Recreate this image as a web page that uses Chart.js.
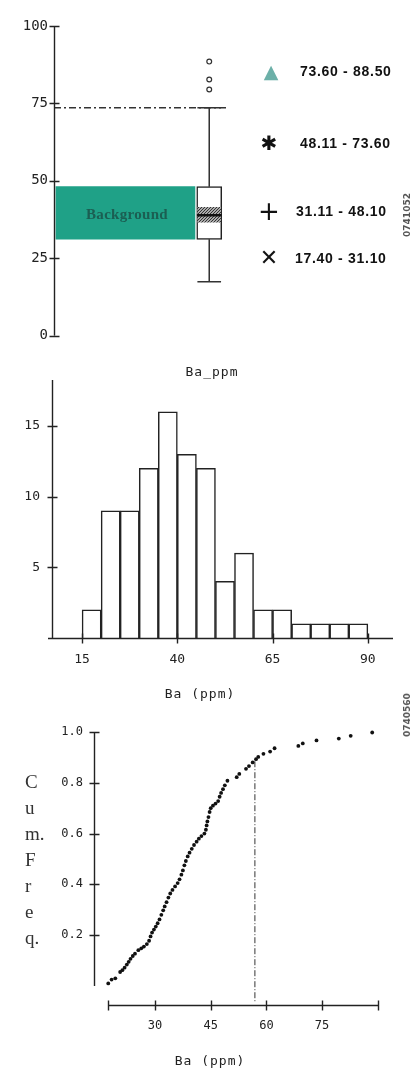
<!DOCTYPE html>
<html>
<head>
<meta charset="utf-8">
<script src="https://cdn.jsdelivr.net/npm/chart.js@4.4.1/dist/chart.umd.min.js"></script>
<style>
html, body { margin: 0; padding: 0; background: #fff; }
body { width: 414px; height: 1079px; position: relative; overflow: hidden; font-family: 'DejaVu Sans Mono', monospace; color: #222; }
.panel { position: absolute; left: 0; width: 414px; }
.lbl { position: absolute; white-space: nowrap; transform: translate(-50%, -50%); }
.axisTitle { font-size: 13px; letter-spacing: 1px; }
.sym { position: absolute; width: 30px; height: 30px; display: flex; align-items: center; justify-content: center; font-family: 'DejaVu Sans', sans-serif; line-height: 1; color: #111; }
.range { position: absolute; font-family: 'Liberation Sans', Arial, sans-serif; font-weight: bold; font-size: 14px; letter-spacing: 0.7px; color: #111; transform: translateY(-50%); white-space: nowrap; }
.cumLabel { position: absolute; left: 25px; top: 769px; font-family: 'Liberation Serif', serif; font-size: 19px; line-height: 26px; color: #333; }
.scan { position: absolute; font-family: 'DejaVu Sans', sans-serif; font-size: 9px; font-weight: bold; color: #555; transform: translate(-50%, -50%) rotate(-90deg); white-space: nowrap; }
</style>
</head>
<body>
<div class="panel" style="top:0;height:350px"><canvas id="boxChart"></canvas></div>
<div class="panel" style="top:360px;height:345px"><canvas id="histChart"></canvas></div>
<div class="panel" style="top:705px;height:374px"><canvas id="cumChart"></canvas></div>

<div class="lbl" style="left:127px;top:214px;font-family:'Liberation Serif',serif;font-weight:bold;font-size:15px;color:#1b5e52;letter-spacing:0.3px">Background</div>
<div id="legend"></div>

<div class="lbl axisTitle" style="left:212px;top:371px">Ba_ppm</div>
<div class="lbl axisTitle" style="left:200px;top:693px">Ba (ppm)</div>
<div class="lbl axisTitle" style="left:210px;top:1060px">Ba (ppm)</div>
<div class="cumLabel">C<br>u<br>m.<br>F<br>r<br>e<br>q.</div>

<div class="scan" style="left:407px;top:215px">0741052</div>
<div class="scan" style="left:407px;top:715px">0740560</div>

<script>
// ---- boxplot panel ----
const boxTicks = [0, 25, 50, 75, 100];
const backgroundRange = [31.11, 48.10];
const boxQuartiles = [31.1, 48.1];
const boxMedian = 38.9;
const boxNotch = [36.6, 41.4];
const whiskerLow = 17.4;
const whiskerHigh = 73.6;
const outliers = [79.5, 82.7, 88.5];
const thresholdBa = 73.6;
const legendSymbols = ['\u25B2', '\u2731', '+', '\u2715'];
const legendRanges = ['73.60 - 88.50', '48.11 - 73.60', '31.11 - 48.10', '17.40 - 31.10'];

// ---- histogram panel ----
const histBinCenters = [17.5, 22.5, 27.5, 32.5, 37.5, 42.5, 47.5, 52.5, 57.5, 62.5, 67.5, 72.5, 77.5, 82.5, 87.5];
const histCounts = [2, 9, 9, 12, 16, 13, 12, 4, 6, 2, 2, 1, 1, 1, 1];
const histXTicks = [15, 40, 65, 90];
const histYTicks = [5, 10, 15];

// ---- cumulative frequency panel ----
const cumBa = [17.4, 18.3, 19.3, 20.6, 21.2, 21.8, 22.4, 22.9, 23.4, 24.0, 24.6, 25.5, 26.3, 27.0, 27.8,
    28.4, 28.8, 29.2, 29.7, 30.2, 30.7, 31.2, 31.7, 32.2, 32.6, 33.1, 33.6, 34.1, 34.7, 35.4,
    36.1, 36.6, 37.1, 37.5, 37.9, 38.3, 38.8, 39.3, 39.9, 40.5, 41.2, 41.8, 42.5, 43.3, 43.7,
    43.9, 44.1, 44.4, 44.7, 45.0, 45.6, 46.3, 47.0, 47.4, 47.8, 48.3, 48.8, 49.5, 52.0, 52.7,
    54.5, 55.3, 56.3, 57.2, 57.8, 59.2, 61.0, 62.2, 68.6, 69.8, 73.5, 79.5, 82.7, 88.5];
const cumFreq = [0.010, 0.025, 0.030, 0.055, 0.062, 0.072, 0.084, 0.095, 0.107, 0.118, 0.127, 0.141, 0.148, 0.155, 0.165,
    0.178, 0.195, 0.210, 0.222, 0.234, 0.247, 0.262, 0.280, 0.298, 0.313, 0.330, 0.348, 0.364, 0.378, 0.392,
    0.405, 0.420, 0.438, 0.455, 0.475, 0.492, 0.510, 0.525, 0.540, 0.555, 0.568, 0.580, 0.590, 0.600, 0.615,
    0.632, 0.648, 0.665, 0.685, 0.700, 0.710, 0.718, 0.728, 0.745, 0.760, 0.775, 0.790, 0.808, 0.822, 0.835,
    0.855, 0.866, 0.880, 0.893, 0.902, 0.914, 0.923, 0.936, 0.945, 0.955, 0.967, 0.974, 0.985, 0.998];
const cumXTicks = [30, 45, 60, 75];
const cumYTicks = [0.2, 0.4, 0.6, 0.8, 1.0];
const cutoffBa = 56.9;
const cutoffFreq = 0.885;

// layout of the boxplot panel (x units = pixels right of the axis)
const BOX_X = 157.5, BOX_W = 25;
const BG_X = 72.5, BG_W = 139;
const LINE_END = 176;

Chart.defaults.font.family = "'DejaVu Sans Mono', monospace";
Chart.defaults.color = '#222';
Chart.defaults.animation = false;
Chart.defaults.events = [];
Chart.defaults.plugins.legend.display = false;
Chart.defaults.plugins.tooltip.enabled = false;

// axes drawn with ticks crossing the axis line
const crossAxes = {
    id: 'crossAxes',
    afterDraw(chart, args, opts) {
        const ctx = chart.ctx;
        const x = chart.scales.x, y = chart.scales.y;
        const ax = Math.round(chart.chartArea.left) + 0.5;
        ctx.save();
        ctx.strokeStyle = '#222';
        ctx.lineWidth = 1.4;
        ctx.beginPath();
        ctx.moveTo(ax, y.getPixelForValue(opts.yFrom));
        ctx.lineTo(ax, y.getPixelForValue(opts.yTo));
        opts.yTicks.forEach(v => {
            const p = Math.round(y.getPixelForValue(v)) + 0.5;
            ctx.moveTo(ax - 5, p);
            ctx.lineTo(ax + 5, p);
        });
        if (opts.xTicks) {
            const ay = Math.round(y.getPixelForValue(opts.xAt)) + 0.5;
            ctx.moveTo(x.getPixelForValue(opts.xFrom) - (opts.xLead || 0), ay);
            ctx.lineTo(x.getPixelForValue(opts.xTo), ay);
            opts.xTicks.forEach(v => {
                const p = Math.round(x.getPixelForValue(v)) + 0.5;
                ctx.moveTo(p, ay - 5);
                ctx.lineTo(p, ay + 5);
            });
        }
        ctx.stroke();
        ctx.restore();
    }
};

function fixedTicks(list) {
    return scale => { scale.ticks = list.map(v => ({ value: v })); };
}

function notchPattern(ctx) {
    const c = document.createElement('canvas');
    c.width = 3; c.height = 3;
    const g = c.getContext('2d');
    g.fillStyle = '#aaa';
    g.fillRect(0, 0, 3, 3);
    g.fillStyle = '#333';
    g.fillRect(0, 0, 1, 1);
    g.fillRect(2, 1, 1, 1);
    g.fillRect(1, 2, 1, 1);
    return ctx.createPattern(c, 'repeat');
}

function initBoxChart() {
    const canvas = document.getElementById('boxChart');
    const ctx = canvas.getContext('2d');
    new Chart(ctx, {
        type: 'bar',
        data: {
            datasets: [
                {
                    type: 'scatter',
                    data: outliers.map(v => ({ x: BOX_X, y: v })),
                    pointRadius: 2.4,
                    pointBackgroundColor: '#fff',
                    pointBorderColor: '#333',
                    pointBorderWidth: 1.2
                },
                {
                    type: 'line',
                    data: [{ x: 0, y: thresholdBa }, { x: LINE_END, y: thresholdBa }],
                    borderColor: '#333',
                    borderWidth: 1.3,
                    borderDash: [7, 3, 2, 3],
                    pointRadius: 0
                },
                {
                    type: 'line',
                    data: [{ x: BOX_X - BOX_W / 2, y: boxMedian }, { x: BOX_X + BOX_W / 2, y: boxMedian }],
                    borderColor: '#111',
                    borderWidth: 2.5,
                    pointRadius: 0
                },
                {
                    type: 'bar',
                    data: [{ x: BOX_X, y: boxNotch }],
                    backgroundColor: notchPattern(ctx),
                    barThickness: BOX_W - 2,
                    grouped: false
                },
                {
                    type: 'bar',
                    data: [{ x: BOX_X, y: boxQuartiles }],
                    backgroundColor: '#fff',
                    borderColor: '#222',
                    borderWidth: 1.5,
                    borderSkipped: false,
                    barThickness: BOX_W,
                    grouped: false
                },
                {
                    type: 'line',
                    data: [
                        { x: BOX_X, y: boxQuartiles[1] }, { x: BOX_X, y: whiskerHigh }, { x: BOX_X, y: null },
                        { x: BOX_X, y: boxQuartiles[0] }, { x: BOX_X, y: whiskerLow }, { x: BOX_X, y: null },
                        { x: BOX_X - 12, y: whiskerHigh }, { x: BOX_X + 12, y: whiskerHigh }, { x: BOX_X, y: null },
                        { x: BOX_X - 12, y: whiskerLow }, { x: BOX_X + 12, y: whiskerLow }
                    ],
                    borderColor: '#333',
                    borderWidth: 1.5,
                    pointRadius: 0,
                    spanGaps: false
                },
                {
                    type: 'bar',
                    data: [{ x: BG_X, y: backgroundRange }],
                    backgroundColor: '#1fa187',
                    barThickness: BG_W,
                    grouped: false
                }
            ]
        },
        options: {
            responsive: true,
            maintainAspectRatio: false,
            layout: { padding: { top: 26, bottom: 13, left: 0, right: 0 } },
            scales: {
                x: { type: 'linear', display: false, offset: false, min: 0, max: 360 },
                y: {
                    min: 0, max: 100,
                    afterBuildTicks: fixedTicks(boxTicks),
                    afterFit: s => { s.width = 54; },
                    grid: { display: false, drawTicks: false },
                    border: { display: false },
                    ticks: { padding: 6, font: { size: 14 } }
                }
            },
            plugins: { crossAxes: { yFrom: 0, yTo: 100, yTicks: boxTicks } }
        },
        plugins: [crossAxes]
    });

    // legend at the right of the boxplot
    const legend = document.getElementById('legend');
    const rows = [
        { cy: 71, sx: 271, tx: 300, size: 19, color: '#6cb0a8' },
        { cy: 143, sx: 269, tx: 300, size: 20, color: '#111' },
        { cy: 211, sx: 269, tx: 296, size: 26, color: '#111' },
        { cy: 258, sx: 269, tx: 295, size: 22, color: '#111' }
    ];
    rows.forEach((r, i) => {
        const s = document.createElement('div');
        s.className = 'sym';
        s.style.left = (r.sx - 15) + 'px';
        s.style.top = (r.cy - 15) + 'px';
        s.style.fontSize = r.size + 'px';
        s.style.color = r.color;
        s.textContent = legendSymbols[i];
        legend.appendChild(s);
        const t = document.createElement('div');
        t.className = 'range';
        t.style.left = r.tx + 'px';
        t.style.top = r.cy + 'px';
        t.textContent = legendRanges[i];
        legend.appendChild(t);
    });
}

function initHistChart() {
    new Chart(document.getElementById('histChart'), {
        type: 'bar',
        data: {
            datasets: [{
                data: histBinCenters.map((c, i) => ({ x: c, y: histCounts[i] })),
                backgroundColor: '#fff',
                borderColor: '#222',
                borderWidth: 1.5,
                borderSkipped: 'bottom',
                barPercentage: 1,
                categoryPercentage: 1,
                grouped: false
            }]
        },
        options: {
            responsive: true,
            maintainAspectRatio: false,
            layout: { padding: { top: 20, right: 21, bottom: 0, left: 0 } },
            scales: {
                x: {
                    type: 'linear', offset: false, min: 7.1, max: 96.6,
                    afterBuildTicks: fixedTicks(histXTicks),
                    afterFit: s => { s.height = 67; },
                    grid: { display: false, drawTicks: false },
                    border: { display: false },
                    ticks: { padding: 14, font: { size: 13 }, autoSkip: false, maxRotation: 0 }
                },
                y: {
                    min: 0, max: 18.25,
                    afterBuildTicks: fixedTicks(histYTicks),
                    afterFit: s => { s.width = 52; },
                    grid: { display: false, drawTicks: false },
                    border: { display: false },
                    ticks: { padding: 12, font: { size: 13 } }
                }
            },
            plugins: {
                crossAxes: { yFrom: 0, yTo: 18.25, yTicks: histYTicks, xAt: 0, xFrom: 7.1, xTo: 96.6, xLead: 4, xTicks: histXTicks }
            }
        },
        plugins: [crossAxes]
    });
}

function initCumChart() {
    new Chart(document.getElementById('cumChart'), {
        type: 'scatter',
        data: {
            datasets: [
                {
                    data: cumBa.map((v, i) => ({ x: v, y: cumFreq[i] })),
                    pointRadius: 1.9,
                    pointBackgroundColor: '#111',
                    pointBorderWidth: 0,
                    clip: false
                },
                {
                    type: 'line',
                    data: [{ x: cutoffBa, y: cutoffFreq }, { x: cutoffBa, y: -0.06 }],
                    borderColor: '#333',
                    borderWidth: 1,
                    borderDash: [6, 2, 1, 2],
                    pointRadius: 0
                }
            ]
        },
        options: {
            responsive: true,
            maintainAspectRatio: false,
            layout: { padding: { top: 27, right: 36, bottom: 0, left: 0 } },
            scales: {
                x: {
                    type: 'linear', min: 13.56, max: 90.06,
                    afterBuildTicks: fixedTicks(cumXTicks),
                    afterFit: s => { s.height = 74; },
                    grid: { display: false, drawTicks: false },
                    border: { display: false },
                    ticks: { padding: 14, font: { size: 12 }, autoSkip: false, maxRotation: 0 }
                },
                y: {
                    min: -0.075, max: 1.0,
                    afterBuildTicks: fixedTicks(cumYTicks),
                    afterFit: s => { s.width = 94; },
                    grid: { display: false, drawTicks: false },
                    border: { display: false },
                    ticks: { padding: 11, font: { size: 12 }, callback: v => v.toFixed(1) }
                }
            },
            plugins: {
                crossAxes: { yFrom: 0, yTo: 1.0, yTicks: cumYTicks, xAt: -0.075, xFrom: 17.3, xTo: 90.06, xTicks: [17.3].concat(cumXTicks, [90.06]) }
            }
        },
        plugins: [crossAxes]
    });
}

initBoxChart();
initHistChart();
initCumChart();
</script>
</body>
</html>
